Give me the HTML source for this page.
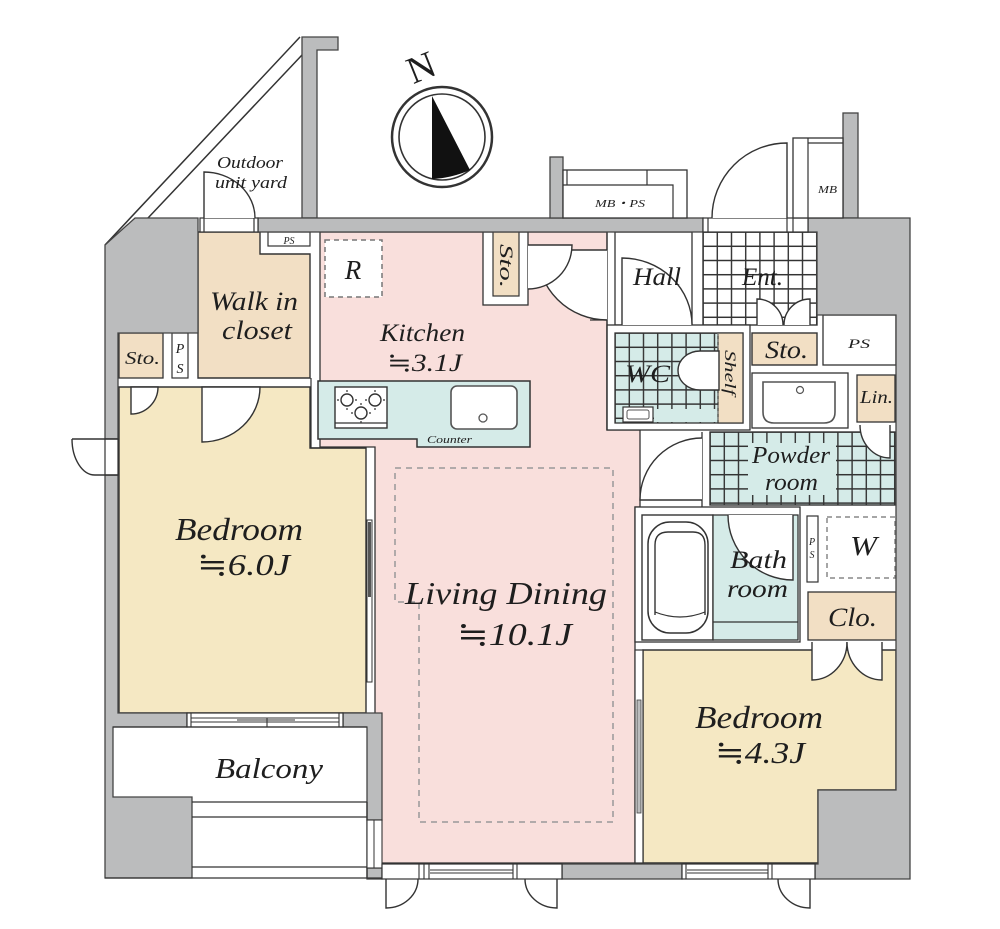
<!DOCTYPE html>
<html><head><meta charset="utf-8">
<style>
html,body{margin:0;padding:0;background:#fff;}
svg{display:block;}
text{font-family:"Liberation Serif","DejaVu Serif",serif;font-style:italic;fill:#1e1e1e;}
</style></head><body>
<svg width="1000" height="929" viewBox="0 0 1000 929" xmlns="http://www.w3.org/2000/svg">
<defs>
<pattern id="tw" patternUnits="userSpaceOnUse" x="696" y="225" width="14.2" height="14.2"><rect width="14.2" height="14.2" fill="#fff"/><path d="M7.1,0V14.2M0,7.1H14.2" stroke="#333" stroke-width="1.4"/></pattern>
<pattern id="tb" patternUnits="userSpaceOnUse" x="608" y="326" width="14.2" height="14.2"><rect width="14.2" height="14.2" fill="#d5ebe8"/><path d="M7.1,0V14.2M0,7.1H14.2" stroke="#333" stroke-width="1.4"/></pattern>
<pattern id="tp" patternUnits="userSpaceOnUse" x="703" y="425" width="14.2" height="14.2"><rect width="14.2" height="14.2" fill="#d5ebe8"/><path d="M7.1,0V14.2M0,7.1H14.2" stroke="#333" stroke-width="1.4"/></pattern>
</defs>

<!-- ===== outdoor yard diagonal ===== -->
<path d="M105,245 L300,37" stroke="#333" stroke-width="1.5" fill="none"/>
<path d="M148,218 L302,55" stroke="#333" stroke-width="1.5" fill="none"/>

<!-- ===== room fills ===== -->
<!-- pink LD + kitchen -->
<path d="M320,232 L607,232 L607,430 L640,430 L640,507 L635,507 L635,863 L375,863 L375,447 L320,447 Z" fill="#f9dfdc" stroke="#333" stroke-width="1.3"/>
<!-- bedroom 6 -->
<path d="M119,387 L310,387 L310,448 L366,448 L366,713 L119,713 Z" fill="#f5e8c3" stroke="#333" stroke-width="1.4"/>
<!-- bedroom 4.3 -->
<path d="M643,650 L896,650 L896,790 L818,790 L818,863 L643,863 Z" fill="#f5e8c3" stroke="#333" stroke-width="1.4"/>
<!-- walk in closet -->
<path d="M198,232 L260,232 L260,254 L310,254 L310,378 L198,378 Z" fill="#f2dfc4" stroke="#333" stroke-width="1.4"/>
<rect x="268" y="232" width="42" height="14" fill="#fff" stroke="#333" stroke-width="1.2"/>
<!-- left Sto / PS -->
<rect x="119" y="333" width="44" height="45" fill="#f2dfc4" stroke="#333" stroke-width="1.3"/>
<rect x="172" y="333" width="16" height="45" fill="#fff" stroke="#333" stroke-width="1.2"/>
<!-- counter -->
<path d="M318,381 L530,381 L530,447 L417,447 L417,439 L318,439 Z" fill="#d5ebe8" stroke="#333" stroke-width="1.5"/>
<path d="M311,378 L311,448 L366,448" fill="none" stroke="#333" stroke-width="1.2"/>
<!-- stove -->
<rect x="335" y="387" width="52" height="41" fill="#fff" stroke="#333" stroke-width="1.4"/>
<line x1="335" y1="423" x2="387" y2="423" stroke="#333" stroke-width="1.2"/>
<g fill="#fff" stroke="#333" stroke-width="1.4">
<circle cx="347" cy="400" r="6"/><circle cx="375" cy="400" r="6"/><circle cx="361" cy="413" r="6"/>
</g>
<g stroke="#333" stroke-width="1.2">
<path d="M347,392v-2M347,408v2M339,400h-2M355,400h2M375,392v-2M375,408v2M367,400h-2M383,400h2M361,405v-2M361,421v2M353,413h-2M369,413h2"/>
</g>
<!-- sink -->
<rect x="451" y="386" width="66" height="43" rx="6" fill="#fff" stroke="#555" stroke-width="1.6"/>
<circle cx="483" cy="418" r="4" fill="#fff" stroke="#555" stroke-width="1.3"/>
<!-- R -->
<rect x="325" y="240" width="57" height="57" fill="#fff" stroke="#777" stroke-width="1.5" stroke-dasharray="5,4"/>
<!-- kitchen sto -->
<rect x="483" y="232" width="45" height="73" fill="#fff" stroke="#333" stroke-width="1.3"/>
<rect x="493" y="232" width="26" height="64" fill="#f2dfc4" stroke="#333" stroke-width="1.2"/>
<!-- dashed LD area -->
<path d="M395,468 L613,468 L613,822 L419,822 L419,602 L395,602 Z" fill="none" stroke="#999" stroke-width="1.5" stroke-dasharray="6,5"/>

<!-- hall / entrance -->
<rect x="615" y="232" width="77" height="93" fill="#fff" stroke="#333" stroke-width="1.3"/>
<line x1="607" y1="232" x2="607" y2="250" stroke="#333" stroke-width="1.3"/>
<rect x="703" y="232" width="114" height="93" fill="url(#tw)" stroke="#333" stroke-width="1.4"/>
<!-- WC -->
<rect x="607" y="325" width="143" height="105" fill="#fff" stroke="#333" stroke-width="1.3"/>
<rect x="615" y="333" width="128" height="90" fill="url(#tb)" stroke="#333" stroke-width="1.3"/>
<rect x="654" y="409" width="64" height="13" fill="#d5ebe8"/>
<rect x="718" y="333" width="25" height="90" fill="#f2dfc4" stroke="#333" stroke-width="1.2"/>
<line x1="718" y1="333" x2="718" y2="423" stroke="#777" stroke-width="1.2" stroke-dasharray="3,3"/>
<path d="M719,351 L700,351 A22,19.5 0 0 0 700,390 L719,390 Z" fill="#fff" stroke="#333" stroke-width="1.4"/>
<rect x="623" y="407" width="30" height="15" fill="#fff" stroke="#333" stroke-width="1.2"/>
<rect x="627" y="410" width="22" height="9" rx="2" fill="#fff" stroke="#555" stroke-width="1"/>
<!-- right Sto / PS -->
<rect x="752" y="333" width="65" height="32" fill="#f2dfc4" stroke="#333" stroke-width="1.4"/>
<rect x="823" y="315" width="73" height="50" fill="#fff" stroke="#333" stroke-width="1.3"/>
<!-- washbasin -->
<rect x="752" y="373" width="96" height="55" fill="#fff" stroke="#333" stroke-width="1.3"/>
<path d="M763,382 H835 V412 Q835,423 824,423 H774 Q763,423 763,412 Z" fill="#fff" stroke="#555" stroke-width="1.6"/>
<circle cx="800" cy="390" r="3.5" fill="#fff" stroke="#555" stroke-width="1.2"/>
<rect x="857" y="375" width="38" height="47" fill="#f2dfc4" stroke="#333" stroke-width="1.3"/>
<!-- powder room -->
<rect x="710" y="432" width="186" height="73" fill="url(#tp)" stroke="#333" stroke-width="1.4"/>
<rect x="748" y="443" width="88" height="52" fill="#d5ebe8"/>
<line x1="702" y1="432" x2="702" y2="507" stroke="#333" stroke-width="1.3"/>
<!-- bath -->
<rect x="635" y="507" width="165" height="135" fill="#fff" stroke="#333" stroke-width="1.3"/>
<rect x="642" y="515" width="71" height="125" fill="#fff" stroke="#333" stroke-width="1.4"/>
<rect x="648" y="522" width="60" height="111" rx="22" fill="#fff" stroke="#333" stroke-width="1.5"/>
<path d="M655,615 V545 Q655,532 668,532 H693 Q705,532 705,545 V615" fill="none" stroke="#333" stroke-width="1.4"/>
<path d="M655,612 Q680,622 705,612" fill="none" stroke="#333" stroke-width="1.2"/>
<rect x="713" y="515" width="85" height="125" fill="#d5ebe8" stroke="#333" stroke-width="1.3"/>
<line x1="713" y1="622" x2="798" y2="622" stroke="#333" stroke-width="1.2"/>
<rect x="807" y="516" width="11" height="66" fill="#fff" stroke="#333" stroke-width="1.2"/>
<rect x="827" y="517" width="68" height="61" fill="#fff" stroke="#888" stroke-width="1.5" stroke-dasharray="5,4"/>
<rect x="808" y="592" width="88" height="48" fill="#f2dfc4" stroke="#333" stroke-width="1.3"/>

<!-- ===== walls (gray) ===== -->
<g fill="#bbbcbd" stroke="#444" stroke-width="1.3">
<path d="M105,245 L135,218 L198,218 L198,333 L118,333 L118,439 L105,439 Z"/>
<path d="M105,475 L118,475 L118,713 L187,713 L187,727 L113,727 L113,797 L192,797 L192,878 L105,878 Z"/>
<path d="M343,713 L382,713 L382,820 L367,820 L367,727 L343,727 Z"/>
<rect x="367" y="868" width="15" height="11"/>
<path d="M302,37 L338,37 L338,50 L317,50 L317,218 L302,218 Z"/>
<rect x="258" y="218" width="445" height="14"/>
<rect x="550" y="157" width="13" height="61"/>
<rect x="843" y="113" width="15" height="105"/>
<path d="M808,218 L910,218 L910,879 L815,879 L815,864 L818,864 L818,790 L896,790 L896,315 L817,315 L817,232 L808,232 Z"/>
<rect x="562" y="864" width="120" height="15"/>
</g>

<!-- outdoor yard door opening -->
<rect x="200" y="218" width="58" height="14" fill="#fff" stroke="#333" stroke-width="1.2"/>
<line x1="204" y1="218" x2="204" y2="232" stroke="#333" stroke-width="1.2"/>
<line x1="254" y1="218" x2="254" y2="232" stroke="#333" stroke-width="1.2"/>
<path d="M204,218 L204,172 A51,46 0 0 1 255,218" fill="#fff" stroke="#333" stroke-width="1.4"/>

<!-- Ent opening -->
<rect x="703" y="218" width="105" height="14" fill="#fff" stroke="#333" stroke-width="1.2"/>
<line x1="708" y1="218" x2="708" y2="232" stroke="#333" stroke-width="1.2"/>
<line x1="787" y1="218" x2="787" y2="232" stroke="#333" stroke-width="1.2"/>
<line x1="793" y1="218" x2="793" y2="232" stroke="#333" stroke-width="1.2"/>
<path d="M787,218 L787,143 A75,75 0 0 0 712,218" fill="#fff" stroke="#333" stroke-width="1.4"/>

<!-- MB·PS -->
<rect x="563" y="170" width="124" height="48" fill="#fff" stroke="#333" stroke-width="1.3"/>
<path d="M563,185 H673 V218 M647,170 V185 M567,170 V185" fill="none" stroke="#333" stroke-width="1.2"/>
<!-- MB -->
<rect x="793" y="138" width="50" height="80" fill="#fff" stroke="#333" stroke-width="1.3"/>
<path d="M808,138 V218 M808,143 H843" fill="none" stroke="#333" stroke-width="1.2"/>

<!-- left exterior door -->
<rect x="105" y="439" width="13" height="36" fill="#fff" stroke="#333" stroke-width="1.2"/>
<path d="M72,439 L118,439 M72,439 A23,36 0 0 0 95,475 L118,475" fill="none" stroke="#333" stroke-width="1.4"/>

<!-- interior doors -->
<g stroke="#333" stroke-width="1.4" fill="#fff">
<path d="M131,387 L131,414 A27,27 0 0 0 158,387 Z"/>
<path d="M202,387 L202,442 A58,55 0 0 0 260,387 Z"/>
<path d="M607,250 L537,250 A70,70 0 0 0 607,320"/>
<path d="M528,245 L572,245 A44,44 0 0 1 528,289"/>
<path d="M622,325 L622,258 A70,67 0 0 1 692,325"/>
<path d="M757,325 L757,299 A26,26 0 0 1 783,325"/>
<path d="M810,325 L810,299 A26,26 0 0 0 784,325"/>
<path d="M890,425 L890,458 A30,33 0 0 1 860,425"/>
<path d="M702,500 L640,500 A62,62 0 0 1 702,438"/>
<path d="M793,515 L793,580 A65,65 0 0 1 728,515"/>
<path d="M812,642 L812,680 A35,38 0 0 0 847,642"/>
<path d="M882,642 L882,680 A35,38 0 0 1 847,642"/>
</g>
<line x1="590" y1="320" x2="607" y2="320" stroke="#333" stroke-width="1.3"/>
<line x1="607" y1="320" x2="607" y2="430" stroke="#333" stroke-width="1.3"/>

<!-- bedroom6 / LD wall with sliding -->
<rect x="367" y="520" width="5" height="162" fill="#fff" stroke="#333" stroke-width="1"/>
<rect x="368" y="522" width="3" height="75" fill="#555"/>
<!-- LD / bedroom4.3 wall -->
<rect x="635" y="650" width="8" height="213" fill="#fff" stroke="#333" stroke-width="1.2"/>
<rect x="637" y="700" width="4" height="113" fill="#bbbcbd" stroke="#444" stroke-width="0.8"/>

<!-- bedroom6 / balcony sliding window -->
<rect x="187" y="713" width="156" height="14" fill="#fff" stroke="#333" stroke-width="1.2"/>
<path d="M191,713 V727 M339,713 V727 M191,718 H339 M191,722 H339 M267,718 V727 M237,720 H295" fill="none" stroke="#333" stroke-width="1.1"/>

<!-- balcony -->
<path d="M113,727 H367 M192,802 H367 M192,817 H367 M192,867 H367 M105,878 H382 M367,802 V878" fill="none" stroke="#333" stroke-width="1.3"/>
<rect x="367" y="820" width="15" height="48" fill="#fff" stroke="#333" stroke-width="1.1"/>
<line x1="374" y1="820" x2="374" y2="868" stroke="#333" stroke-width="1"/>

<!-- bottom wall -->
<rect x="382" y="864" width="180" height="15" fill="#fff" stroke="#333" stroke-width="1.2"/>
<rect x="682" y="864" width="133" height="15" fill="#fff" stroke="#333" stroke-width="1.2"/>
<path d="M430,870 H513 M430,873 H513 M419,864 V879 M424,864 V879 M429,864 V879 M513,864 V879 M517,864 V879 M687,870 H768 M687,873 H768 M686,864 V879 M768,864 V879 M772,864 V879" fill="none" stroke="#333" stroke-width="1.1"/>
<g stroke="#333" stroke-width="1.4" fill="none">
<path d="M386,879 L386,908 A32,29 0 0 0 418,879"/>
<path d="M557,879 L557,908 A32,29 0 0 1 525,879"/>
<path d="M810,879 L810,908 A32,29 0 0 1 778,879"/>
</g>

<!-- compass -->
<circle cx="442" cy="137" r="50" fill="#fff" stroke="#333" stroke-width="2.5"/>
<circle cx="442" cy="137" r="43" fill="none" stroke="#333" stroke-width="1.6"/>
<path d="M432,96 L470,170 Q452,178 432,179 Z" fill="#111"/>
<text x="421" y="80" font-size="38" text-anchor="middle" style="font-style:normal" transform="rotate(-22 421 67)">N</text>

<!-- ===== labels ===== -->
<text x="217" y="168" font-size="17" textLength="66" lengthAdjust="spacingAndGlyphs">Outdoor</text>
<text x="215" y="188" font-size="17" textLength="72" lengthAdjust="spacingAndGlyphs">unit yard</text>
<text x="289" y="244" font-size="10" text-anchor="middle">PS</text>
<text x="210" y="310" font-size="26" textLength="88" lengthAdjust="spacingAndGlyphs">Walk in</text>
<text x="222" y="339" font-size="26" textLength="70" lengthAdjust="spacingAndGlyphs">closet</text>
<text x="125" y="364" font-size="18" textLength="35" lengthAdjust="spacingAndGlyphs">Sto.</text>
<text x="180" y="353" font-size="14" text-anchor="middle">P</text>
<text x="180" y="373" font-size="14" text-anchor="middle">S</text>
<text x="353" y="279" font-size="27" text-anchor="middle">R</text>
<text x="380" y="341" font-size="25" textLength="85" lengthAdjust="spacingAndGlyphs">Kitchen</text>
<text x="387" y="371" font-size="25" textLength="75" lengthAdjust="spacingAndGlyphs">≒3.1J</text>
<text x="427" y="443" font-size="11" textLength="45" lengthAdjust="spacingAndGlyphs" fill="#335">Counter</text>
<text x="0" y="0" font-size="19" textLength="44" lengthAdjust="spacingAndGlyphs" transform="translate(500,244) rotate(90)">Sto.</text>
<text x="595" y="207" font-size="11" textLength="50" lengthAdjust="spacingAndGlyphs">MB・PS</text>
<text x="818" y="193" font-size="11" textLength="19" lengthAdjust="spacingAndGlyphs">MB</text>
<text x="633" y="285" font-size="25" textLength="48" lengthAdjust="spacingAndGlyphs">Hall</text>
<text x="742" y="285" font-size="25" textLength="41" lengthAdjust="spacingAndGlyphs">Ent.</text>
<text x="625" y="382" font-size="25" textLength="45" lengthAdjust="spacingAndGlyphs">WC</text>
<text x="0" y="0" font-size="16" textLength="45" lengthAdjust="spacingAndGlyphs" transform="translate(725,350) rotate(90)">Shelf</text>
<text x="765" y="358" font-size="25" textLength="43" lengthAdjust="spacingAndGlyphs">Sto.</text>
<text x="848" y="348" font-size="13" textLength="22" lengthAdjust="spacingAndGlyphs">PS</text>
<text x="860" y="403" font-size="18" textLength="33" lengthAdjust="spacingAndGlyphs">Lin.</text>
<text x="752" y="463" font-size="24" textLength="78" lengthAdjust="spacingAndGlyphs">Powder</text>
<text x="765" y="490" font-size="24" textLength="53" lengthAdjust="spacingAndGlyphs">room</text>
<text x="730" y="568" font-size="25" textLength="57" lengthAdjust="spacingAndGlyphs">Bath</text>
<text x="727" y="597" font-size="25" textLength="61" lengthAdjust="spacingAndGlyphs">room</text>
<text x="812" y="545" font-size="10" text-anchor="middle">P</text>
<text x="812" y="558" font-size="10" text-anchor="middle">S</text>
<text x="850" y="555" font-size="27" textLength="27" lengthAdjust="spacingAndGlyphs">W</text>
<text x="828" y="626" font-size="26" textLength="49" lengthAdjust="spacingAndGlyphs">Clo.</text>
<text x="175" y="540" font-size="32" textLength="128" lengthAdjust="spacingAndGlyphs">Bedroom</text>
<text x="197" y="575" font-size="31" textLength="93" lengthAdjust="spacingAndGlyphs">≒6.0J</text>
<text x="405" y="604" font-size="32" textLength="202" lengthAdjust="spacingAndGlyphs">Living Dining</text>
<text x="457" y="645" font-size="32" textLength="115" lengthAdjust="spacingAndGlyphs">≒10.1J</text>
<text x="695" y="728" font-size="32" textLength="128" lengthAdjust="spacingAndGlyphs">Bedroom</text>
<text x="715" y="763" font-size="31" textLength="90" lengthAdjust="spacingAndGlyphs">≒4.3J</text>
<text x="215" y="778" font-size="28" textLength="108" lengthAdjust="spacingAndGlyphs">Balcony</text>
</svg>
</body></html>
